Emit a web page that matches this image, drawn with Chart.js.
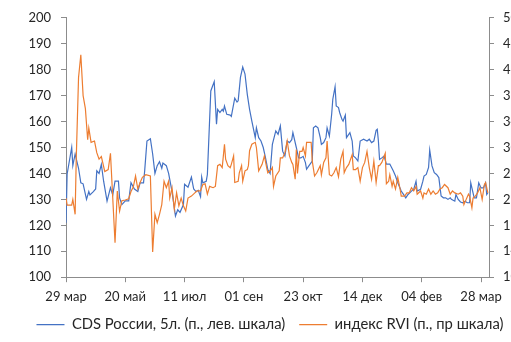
<!DOCTYPE html>
<html>
<head>
<meta charset="utf-8">
<script src="https://cdn.jsdelivr.net/npm/chart.js@4/dist/chart.umd.min.js"></script>
<style>
  html, body { margin: 0; padding: 0; background: #fff; overflow: hidden; }
  #wrap { width: 511px; height: 342px; overflow: hidden; }
</style>
</head>
<body>
<div id="wrap"><canvas id="chart" width="540" height="342"></canvas></div>
<script>
// days counted from 29 Mar
const tickLabels = ['29 мар', '20 май', '11 июл', '01 сен', '23 окт', '14 дек', '04 фев', '28 мар'];
const tickStep = 52;

const cdsLabel = 'CDS России, 5л. (п., лев. шкала)';
const cdsDays = [0, 1, 5, 6, 8, 11, 13, 15, 18, 20, 21, 24, 26, 27, 29, 31, 33, 36, 39, 41, 43, 46, 47, 49, 52, 55, 57, 60, 63, 65, 68, 69, 71, 74, 76, 78, 80, 82, 84, 85, 88, 90,
  93, 96, 98, 100, 103, 104, 107, 110, 112, 114, 116, 118, 119, 120, 123, 124, 127, 130, 132, 133, 135, 137, 138, 139, 141, 144, 145, 148, 150, 151, 153, 155, 157, 159, 161, 163,
  166, 167, 169, 171, 173, 175, 177, 179, 181, 184, 186, 188, 190, 192, 194, 196, 198, 199, 202, 204, 206, 208, 210, 211, 213, 216, 217, 219, 221, 223, 224, 226, 228, 229, 231,
  233, 234, 236, 237, 239, 240, 242, 243, 245, 246, 249, 251, 252, 254, 256, 258, 261, 264, 266, 268, 270, 272, 273, 274, 275, 277, 279, 281, 284, 287, 289, 291, 294, 296, 298,
  300, 303, 305, 307, 308, 311, 313, 314, 316, 318, 319, 321, 323, 325, 327, 329, 331, 333, 335, 337, 338, 341, 342, 344, 346, 348, 350, 352, 354, 355, 356, 358, 360, 362, 364,
  366, 368, 369, 370];
const cdsValues = [121, 139.8, 150, 143, 147.5, 142, 136.4, 136, 130, 133, 131.7, 133, 134, 141, 140, 143.5, 137, 129.3, 134.5, 131.7, 137, 137, 130.6, 128, 129.4, 129.4, 136.4, 134, 133, 136.4, 136.4, 141, 152.5, 153.4, 147.5, 140, 143, 144.5, 142, 144, 143, 140,
  133, 123.6, 126, 125, 128, 135.8, 134.7, 138.6, 134, 133, 133.5, 131, 138.6, 136.4, 137, 139.6, 171.8, 175.4, 159, 164.7, 163.5, 164.7, 164, 166, 162.8, 162.5, 162, 169, 167.5, 168, 177, 181, 178.3, 170.5, 164.7, 160.2,
  153.8, 157.6, 153.8, 152.5, 150, 146, 141.5, 140, 151.2, 156.4, 155.1, 158.3, 148.6, 146.7, 152.5, 151.9, 153, 155.7, 150, 146, 146, 146.6, 144.2, 141.6, 142.9, 144.8, 157.6, 158.3, 157.6, 153.8, 151.2, 151.9, 153.8, 157.6, 154.4,
  162.8, 168.6, 173.4, 166, 165.4, 163.5, 160.9, 160.2, 162.5, 153.8, 155.7, 152.5, 146.7, 146, 144.8, 152.5, 153.2, 152.5, 153.2, 151.9, 152.5, 156.6, 157, 152.5, 145.4, 146, 146.7, 143.6, 143.6, 141, 139, 136.4, 133.2, 131.9, 130.6,
  131.9, 133.2, 133.9, 137, 133.2, 133.9, 137, 139, 139.6, 142.3, 149, 142.9, 140.3, 139.6, 138.4, 131.3, 130.6, 130.6, 130, 130.6, 130, 129.3, 131.9, 130, 129, 128.7, 129.3, 128.7, 128.7, 136.4, 134.4, 130.6, 130.6, 136.4, 134.4,
  134.4, 136.4, 131.9, 132.6];

const rviLabel = 'индекс RVI (п., пр шкала)';
const rviDays = [0, 1, 5, 6, 8, 9, 11, 13, 15, 17, 19, 20, 22, 25, 27, 29, 31, 34, 37, 39, 41, 43, 45, 47, 49, 52, 55, 57, 59, 61, 63, 65, 67, 70, 74, 76, 78, 80, 82, 84, 86, 88, 90,
  91, 93, 95, 97, 99, 101, 103, 105, 107, 110, 113, 115, 118, 120, 122, 124, 126, 129, 131, 133, 135, 137, 139, 140, 142, 144, 145, 147, 148, 151, 152, 154, 155, 157, 159, 160, 161, 163,
  166, 167, 169, 172, 174, 176, 177, 180, 181, 182, 184, 187, 188, 190, 192, 194, 196, 198, 199, 201, 202, 203, 205, 207, 208, 210, 211, 213, 215, 216, 218, 220, 223, 224, 226, 228, 229,
  231, 233, 235, 237, 239, 241, 243, 244, 246, 248, 251, 252, 254, 256, 258, 260, 262, 264, 266, 268, 270, 272, 274, 275, 277, 280, 281, 283, 284, 286, 287, 289, 291, 293, 294, 297,
  299, 301, 303, 305, 307, 308, 311, 313, 314, 316, 318, 320, 322, 324, 326, 328, 330, 332, 335, 337, 339, 341, 344, 346, 348, 349, 351, 353, 354, 356, 357, 359, 361, 363, 365, 367,
  368, 370];
const rviValues = [22.2, 21.1, 21.1, 22, 19.7, 28.4, 40.8, 44.3, 38, 36, 31.2, 33, 30.8, 31, 29.2, 28.2, 28.6, 26.3, 26.6, 29.1, 22.2, 15.3, 23.3, 20.2, 21.8, 21.9, 22.1, 23.2, 23.9, 25.6, 23.6, 24.6, 25.4, 25.8, 25.6, 13.9, 19.7, 18.4, 19.7, 21.2, 24.8, 23.8, 24.8,
  22.2, 23.8, 20.5, 23, 21, 22.2, 21, 20.2, 22.2, 22.5, 23, 23.3, 23.3, 24.3, 24.4, 22.8, 24, 23.8, 24, 27.2, 27.4, 26.9, 30.5, 28.2, 27.2, 26.9, 27.4, 28.7, 24.6, 24.8, 26.1, 27.2, 24.8, 26.4, 26.6, 27.2, 29.5, 30.5,
  30.8, 30, 26.4, 27.4, 28.7, 26.9, 26.1, 26.6, 26.9, 24, 25.6, 26.4, 28.4, 28.4, 29.2, 31, 28.7, 27.7, 27.4, 25.1, 29.7, 26, 29.4, 29.4, 30, 28.7, 30.8, 30.8, 30.8, 27.9, 25.6, 26.1, 27.2, 25.8, 27.7, 28.4, 31,
  25.8, 25.6, 26.1, 26.9, 25.5, 28.2, 29.4, 26.1, 26.9, 27.4, 28.9, 26.6, 26.6, 26.9, 24.8, 26.9, 27.7, 29.4, 26.9, 25.1, 27.9, 24.6, 27.2, 27.2, 27.7, 29.1, 24.4, 24.8, 25.8, 24, 24.8, 23.6, 25.4, 23.6, 22.5, 22.5,
  23, 23, 23.8, 23.3, 24, 22.8, 23.3, 22.2, 23, 22.8, 23.6, 22.8, 23.3, 22.8, 23, 23.6, 23.8, 24.3, 23.8, 22.8, 23.3, 23, 22.8, 23, 22.5, 21.2, 22, 22.8, 22.5, 20.7, 22.2, 22.5, 23, 23.8, 22, 24.3,
  24.6, 23];

const toPoints = (days, vals) => days.map((d, i) => ({ x: d, y: vals[i] }));

const axisColor = '#8c8c8c';
const textColor = '#262626';
const font = { family: 'Lato', size: 13 };

new Chart(document.getElementById('chart'), {
  type: 'line',
  data: {
    datasets: [
      {
        label: cdsLabel,
        data: toPoints(cdsDays, cdsValues),
        borderColor: '#4472c4',
        backgroundColor: '#4472c4',
        borderWidth: 1.2,
        pointRadius: 0,
        tension: 0,
        yAxisID: 'y',
        order: 1
      },
      {
        label: rviLabel,
        data: toPoints(rviDays, rviValues),
        borderColor: '#ed7d31',
        backgroundColor: '#ed7d31',
        borderWidth: 1.2,
        pointRadius: 0,
        tension: 0,
        yAxisID: 'y2',
        order: 0
      }
    ]
  },
  options: {
    responsive: false,
    animation: false,
    layout: { padding: { top: 17, left: 0, right: 0, bottom: 0 } },
    plugins: {
      tooltip: { enabled: false },
      legend: {
        position: 'bottom',
        labels: {
          usePointStyle: true,
          pointStyle: 'line',
          pointStyleWidth: 28,
          boxHeight: 14,
          padding: 14,
          color: textColor,
          font: { family: 'Lato', size: 14.8 },
          sort: (a, b) => a.datasetIndex - b.datasetIndex
        }
      }
    },
    scales: {
      x: {
        type: 'linear',
        min: 0,
        max: 371,
        afterBuildTicks: (s) => { s.ticks = tickLabels.map((_, i) => ({ value: i * tickStep })); },
        afterFit: (s) => { s.height = 26; },
        ticks: {
          color: textColor,
          font: font,
          padding: 7,
          maxRotation: 0,
          autoSkip: false,
          callback: (v) => tickLabels[Math.round(v / tickStep)]
        },
        grid: { drawOnChartArea: false, drawTicks: true, tickLength: 5, color: axisColor },
        border: { color: axisColor }
      },
      y: {
        position: 'left',
        min: 100,
        max: 200,
        afterFit: (s) => { s.width = 66; },
        ticks: { stepSize: 10, color: textColor, font: font, padding: 10 },
        grid: { drawOnChartArea: false, drawTicks: true, tickLength: 5, color: axisColor },
        border: { color: axisColor }
      },
      y2: {
        position: 'right',
        min: 10,
        max: 50,
        afterFit: (s) => { s.width = 51; },
        ticks: { stepSize: 4, color: textColor, font: font, padding: 9 },
        grid: { drawOnChartArea: false, drawTicks: true, tickLength: 5, color: axisColor },
        border: { color: axisColor }
      }
    }
  }
});
</script>
</body>
</html>
